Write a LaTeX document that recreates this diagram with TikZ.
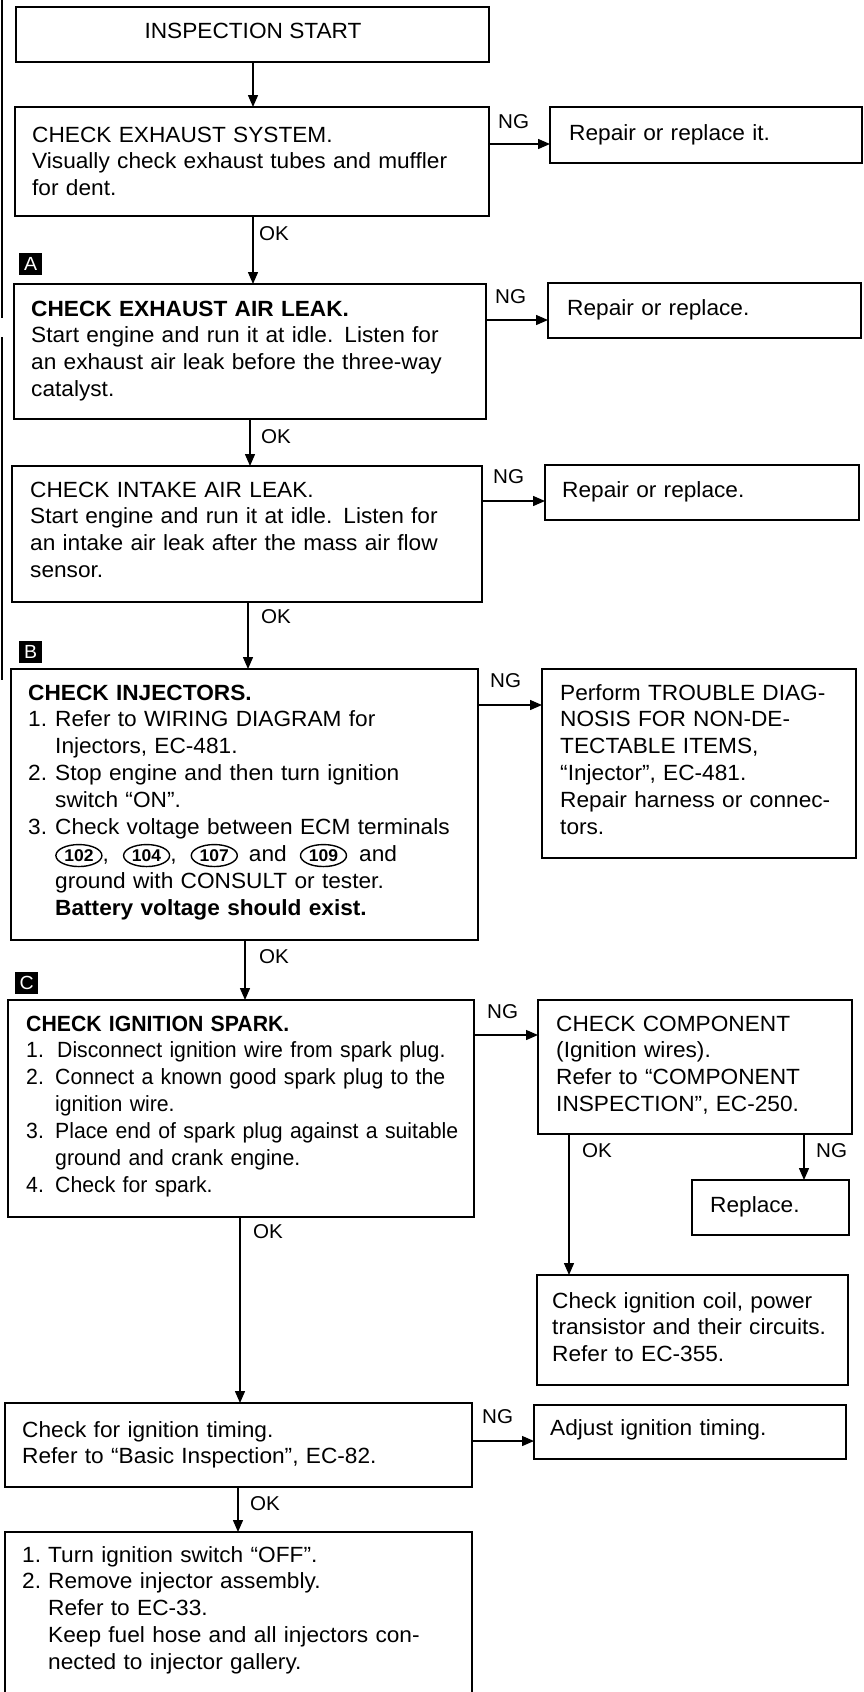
\documentclass[tikz,border=0pt]{standalone}
\usepackage{fontspec}
\setmainfont{Liberation Sans}[FakeStretch=1.03]
\newfontfamily\narrowfont{Liberation Sans}[FakeStretch=0.965]
\usetikzlibrary{arrows.meta,shapes.geometric}
\newcommand{\cnum}[1]{\tikz[baseline=(cnn.base)]\node[draw,ellipse,line width=1.4pt,inner xsep=0pt,inner ysep=0pt,minimum width=46pt,minimum height=22pt,font=\fontsize{17}{17}\selectfont\bfseries] (cnn) {#1};}
\newcommand{\itm}[1]{\makebox[27pt][l]{#1}}
\newcommand{\ind}{\hspace*{27pt}}
\begin{document}
\begin{tikzpicture}[x=1pt,y=-1pt,
  box/.style={draw,line width=1.8pt,rectangle,inner sep=0pt,outer sep=0pt,anchor=north west},
  txt/.style={inner sep=0pt,anchor=base west,align=left,text width=470pt,font=\fontsize{22}{26.9}\selectfont},
  lbl/.style={inner sep=0pt,anchor=base west,font=\fontsize{20}{20}\selectfont},
  tag/.style={fill=black,text=white,inner sep=0pt,anchor=north west,minimum width=23pt,minimum height=22pt,font=\fontsize{19}{19}\selectfont},
  arr/.style={line width=1.4pt,-{Triangle[length=12pt,width=10pt]}},
  edge/.style={line width=1.5pt}]
\useasboundingbox (0,0) rectangle (863,1692);
\clip (0,0) rectangle (863,1692);
\fill[white] (0,0) rectangle (863,1692);
% scan edge lines
\draw[edge] (2,0) -- (2,318);
\draw[edge] (2,337) -- (2,680);

% boxes
\node[box,minimum width=473pt,minimum height=55pt] (start) at (16,7) {};
\node[inner sep=0pt,anchor=base,font=\fontsize{22}{26.9}\selectfont] (startT) at (253,38) {INSPECTION START};

\node[box,minimum width=474pt,minimum height=109pt] (exh) at (15,107) {};
\node[txt] (exhT) at (32,142) {CHECK EXHAUST SYSTEM.\\Visually check exhaust tubes and muffler\\for dent.};
\node[box,minimum width=312pt,minimum height=56pt] (rep1) at (550,107) {};
\node[txt] (rep1T) at (569,140) {Repair or replace it.};

\node[box,minimum width=472pt,minimum height=135pt] (exl) at (14,284) {};
\node[txt] (exlT) at (31,316) {\textbf{CHECK EXHAUST AIR LEAK.}\\Start engine and run it at idle. Listen for\\an exhaust air leak before the three-way\\catalyst.};
\node[box,minimum width=313pt,minimum height=55pt] (rep2) at (548,283) {};
\node[txt] (rep2T) at (567,315) {Repair or replace.};

\node[box,minimum width=470pt,minimum height=136pt] (inl) at (12,466) {};
\node[txt] (inlT) at (30,497) {CHECK INTAKE AIR LEAK.\\Start engine and run it at idle. Listen for\\an intake air leak after the mass air flow\\sensor.};
\node[box,minimum width=314pt,minimum height=55pt] (rep3) at (545,465) {};
\node[txt] (rep3T) at (562,497) {Repair or replace.};

\node[box,minimum width=467pt,minimum height=271pt] (inj) at (11,669) {};
\node[txt] (injT) at (28,700) {\textbf{CHECK INJECTORS.}\\
\itm{1.}Refer to WIRING DIAGRAM for\\
\ind Injectors, EC-481.\\
\itm{2.}Stop engine and then turn ignition\\
\ind switch “ON”.\\
\itm{3.}Check voltage between ECM terminals\\
\ind\cnum{102},\hspace{14pt}\cnum{104},\hspace{14pt}\cnum{107}\hspace{11pt}and\hspace{13pt}\cnum{109}\hspace{12pt}and\\
\ind ground with CONSULT or tester.\\
\ind\textbf{Battery voltage should exist.}};
\node[box,minimum width=314pt,minimum height=189pt] (trb) at (542,669) {};
\node[txt] (trbT) at (560,700) {Perform TROUBLE DIAG-\\NOSIS FOR NON-DE-\\TECTABLE ITEMS,\\“Injector”, EC-481.\\Repair harness or connec-\\tors.};

\node[box,minimum width=466pt,minimum height=217pt] (spk) at (8,1000) {};
\node[txt,font=\fontsize{22}{26.9}\selectfont\narrowfont] (spkT) at (26,1031) {\textbf{CHECK IGNITION SPARK.}\\
\makebox[31pt][l]{1.}Disconnect ignition wire from spark plug.\\
\makebox[29pt][l]{2.}Connect a known good spark plug to the\\
\hspace*{29pt}ignition wire.\\
\makebox[29pt][l]{3.}Place end of spark plug against a suitable\\
\hspace*{29pt}ground and crank engine.\\
\makebox[29pt][l]{4.}Check for spark.};
\node[box,minimum width=314pt,minimum height=134pt] (cmp) at (538,1000) {};
\node[txt] (cmpT) at (556,1031) {CHECK COMPONENT\\(Ignition wires).\\Refer to “COMPONENT\\INSPECTION”, EC-250.};
\node[box,minimum width=157pt,minimum height=55pt] (rpl) at (692,1180) {};
\node[txt] (rplT) at (710,1212) {Replace.};
\node[box,minimum width=311pt,minimum height=110pt] (coil) at (537,1275) {};
\node[txt] (coilT) at (552,1308) {Check ignition coil, power\\transistor and their circuits.\\Refer to EC-355.};

\node[box,minimum width=467pt,minimum height=84pt] (tim) at (5,1403) {};
\node[txt] (timT) at (22,1437) {Check for ignition timing.\\Refer to “Basic Inspection”, EC-82.};
\node[box,minimum width=312pt,minimum height=54pt] (adj) at (534,1405) {};
\node[txt] (adjT) at (550,1435) {Adjust ignition timing.};

\node[box,minimum width=467pt,minimum height=180pt] (fin) at (5,1532) {};
\node[txt] (finT) at (22,1562) {\makebox[26pt][l]{1.}Turn ignition switch “OFF”.\\
\makebox[26pt][l]{2.}Remove injector assembly.\\
\hspace*{26pt}Refer to EC-33.\\
\hspace*{26pt}Keep fuel hose and all injectors con-\\
\hspace*{26pt}nected to injector gallery.};

% tags
\node[tag] (tA) at (19,253) {A};
\node[tag] (tB) at (19,641) {B};
\node[tag] (tC) at (15,972) {C};

% vertical OK arrows
\draw[arr] (start.south -| 253,0) -- (exh.north -| 253,0);
\draw[arr] (exh.south -| 253,0) -- (exl.north -| 253,0);
\draw[arr] (exl.south -| 250,0) -- (inl.north -| 250,0);
\draw[arr] (inl.south -| 248,0) -- (inj.north -| 248,0);
\draw[arr] (inj.south -| 245,0) -- (spk.north -| 245,0);
\draw[arr] (spk.south -| 240,0) -- (tim.north -| 240,0);
\draw[arr] (tim.south -| 238,0) -- (fin.north -| 238,0);
\draw[arr] (cmp.south -| 569,0) -- (coil.north -| 569,0);
\draw[arr] (cmp.south -| 804,0) -- (rpl.north -| 804,0);

% horizontal NG arrows
\draw[arr] (exh.east |- 0,144) -- (rep1.west |- 0,144);
\draw[arr] (exl.east |- 0,320) -- (rep2.west |- 0,320);
\draw[arr] (inl.east |- 0,501) -- (rep3.west |- 0,501);
\draw[arr] (inj.east |- 0,705) -- (trb.west |- 0,705);
\draw[arr] (spk.east |- 0,1035) -- (cmp.west |- 0,1035);
\draw[arr] (tim.east |- 0,1441) -- (adj.west |- 0,1441);

% labels
\node[lbl] (ng1) at (498,128) {NG};
\node[lbl] (ok1) at (259,240) {OK};
\node[lbl] (ng2) at (495,303) {NG};
\node[lbl] (ok2) at (261,443) {OK};
\node[lbl] (ng3) at (493,483) {NG};
\node[lbl] (ok3) at (261,623) {OK};
\node[lbl] (ng4) at (490,687) {NG};
\node[lbl] (ok4) at (259,963) {OK};
\node[lbl] (ng5) at (487,1018) {NG};
\node[lbl] (ok5) at (582,1157) {OK};
\node[lbl] (ng6) at (816,1157) {NG};
\node[lbl] (ok6) at (253,1238) {OK};
\node[lbl] (ng7) at (482,1423) {NG};
\node[lbl] (ok7) at (250,1510) {OK};
\end{tikzpicture}
\end{document}
